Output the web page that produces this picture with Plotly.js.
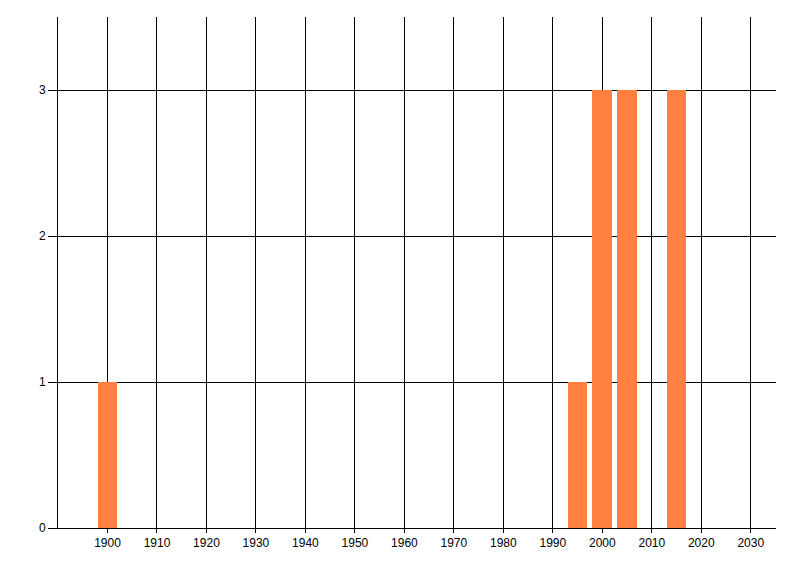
<!DOCTYPE html>
<html>
<head>
<meta charset="utf-8">
<script src="https://cdn.plot.ly/plotly-3.0.1.min.js"></script>
<style>html,body{margin:0;padding:0;background:#fff;}#chart{width:800px;height:576px;}</style>
</head>
<body>
<div id="chart"></div>
<script>
const years = [1900, 1995, 2000, 2005, 2015];
const counts = [1, 1, 3, 3, 3];
const xTicks = [1900, 1910, 1920, 1930, 1940, 1950, 1960, 1970, 1980, 1990, 2000, 2010, 2020, 2030];
const yTicks = [0, 1, 2, 3];

const fontFam = '"Liberation Sans Narrow", "Liberation Sans", Arial, sans-serif';

Plotly.newPlot('chart', [{
  type: 'bar',
  x: years,
  y: counts,
  width: 4,
  marker: {color: '#ff8040', line: {width: 0}},
  hoverinfo: 'x+y'
}], {
  width: 800, height: 576,
  margin: {l: 57.5, r: 24.3, t: 17, b: 48, pad: 0},
  paper_bgcolor: '#fff', plot_bgcolor: '#fff',
  showlegend: false,
  font: {family: fontFam, size: 12, color: '#000'},
  xaxis: {
    range: [1890, 2035.1],
    tickvals: xTicks,
    ticktext: xTicks.map(String),
    showgrid: true, gridcolor: '#000', gridwidth: 1,
    showline: true, linecolor: '#000', linewidth: 1,
    zeroline: false,
    ticks: 'outside', ticklen: 4, tickcolor: '#000', tickwidth: 1,
    tickfont: {family: fontFam, size: 12, color: '#000'}
  },
  yaxis: {
    range: [0, 3.5],
    tickvals: yTicks,
    showgrid: true, gridcolor: '#000', gridwidth: 1,
    showline: true, linecolor: '#000', linewidth: 1,
    zeroline: false,
    ticks: 'outside', ticklen: 9, tickcolor: '#000', tickwidth: 1,
    tickfont: {family: fontFam, size: 12, color: '#000'}
  },
  bargap: 0
}, {displayModeBar: false, staticPlot: true});
</script>
</body>
</html>
